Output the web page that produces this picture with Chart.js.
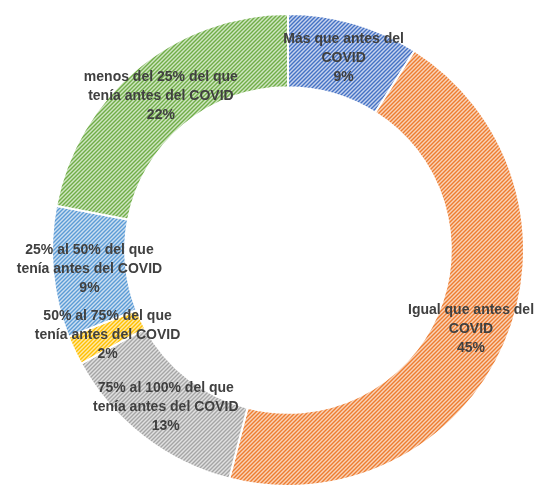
<!DOCTYPE html>
<html>
<head>
<meta charset="utf-8">
<script src="https://cdn.jsdelivr.net/npm/chart.js@4"></script>
<style>
  body { margin: 0; background: #fff; }
</style>
</head>
<body>
<canvas id="graph" width="539" height="492"></canvas>
<script>
const labels = [
  ["Más que antes del", "COVID"],
  ["Igual que antes del", "COVID"],
  ["75% al 100% del que", "tenía antes del COVID"],
  ["50% al 75% del que", "tenía antes del COVID"],
  ["25% al 50% del que", "tenía antes del COVID"],
  ["menos del 25% del que", "tenía antes del COVID"],
];
const values = [9, 45, 13, 2, 9, 22];
const colors = ["#4472C4", "#ED7D31", "#A5A5A5", "#FFC000", "#5B9BD5", "#70AD47"];
const tints = ["#C7D3EE", "#F9D3B9", "#E0E0E0", "#FFE9A8", "#CCDFF1", "#CFE5C2"];

// diagonal hatch like excel's "wide upward diagonal"
function hatch(color, tint) {
  const c = document.createElement("canvas");
  c.width = 4;
  c.height = 4;
  const g = c.getContext("2d");
  g.fillStyle = tint;
  g.fillRect(0, 0, 4, 4);
  g.strokeStyle = color;
  g.lineWidth = 1.4;
  g.beginPath();
  g.moveTo(-1, 5); g.lineTo(5, -1);
  g.moveTo(-1, 1); g.lineTo(1, -1);
  g.moveTo(3, 5); g.lineTo(5, 3);
  g.stroke();
  return g.createPattern(c, "repeat");
}

const sliceLabels = {
  id: "sliceLabels",
  afterDatasetsDraw(chart) {
    const ctx = chart.ctx;
    const meta = chart.getDatasetMeta(0);
    const total = values.reduce((a, b) => a + b, 0);
    ctx.save();
    ctx.font = "bold 14px 'Liberation Sans', sans-serif";
    ctx.fillStyle = "#404040";
    ctx.textAlign = "center";
    ctx.textBaseline = "middle";
    const lh = 19;
    meta.data.forEach((arc, i) => {
      const p = arc.tooltipPosition();
      const lines = labels[i].concat([Math.round(values[i] / total * 100) + "%"]);
      const y0 = p.y - (lines.length - 1) * lh / 2;
      lines.forEach((t, j) => ctx.fillText(t, p.x, y0 + j * lh));
    });
    ctx.restore();
  },
};

const ctx = document.getElementById("graph");
new Chart(ctx, {
  type: "doughnut",
  data: {
    labels: labels,
    datasets: [
      {
        data: values,
        backgroundColor: colors.map((c, i) => hatch(c, tints[i])),
        borderColor: "#fff",
        borderWidth: 2,
      },
    ],
  },
  options: {
    responsive: false,
    animation: false,
    cutout: "69%",
    layout: { padding: { left: 51, right: 14, top: 13, bottom: 5 } },
    plugins: {
      legend: { display: false },
      tooltip: { enabled: false },
    },
  },
  plugins: [sliceLabels],
});
</script>
</body>
</html>
